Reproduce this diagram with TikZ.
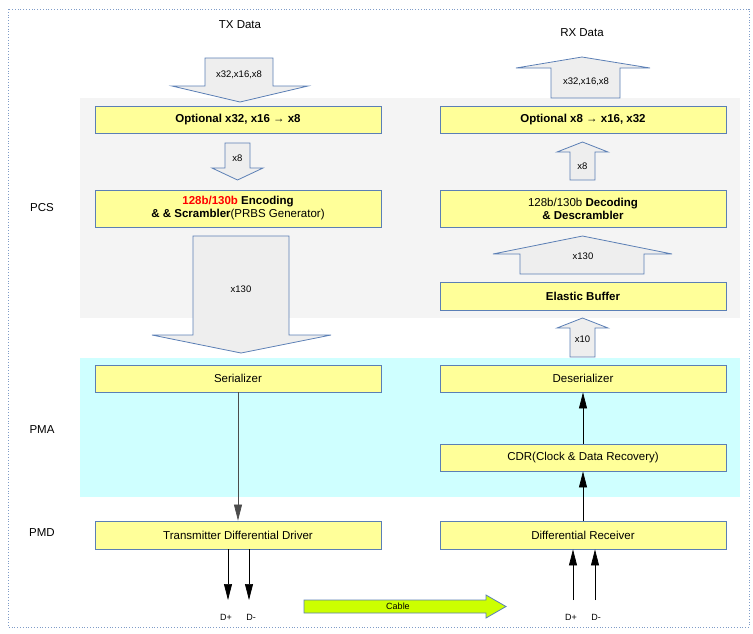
\documentclass[tikz,border=0pt]{standalone}
\usepackage{fontspec}
\setmainfont{Liberation Sans}
\usetikzlibrary{arrows.meta}
\definecolor{boxfill}{HTML}{FFFF99}
\definecolor{boxline}{HTML}{5B7FB5}
\definecolor{pcsband}{HTML}{F4F4F4}
\definecolor{pmaband}{HTML}{CFFFFF}
\definecolor{arrfill}{HTML}{EEEEEE}
\definecolor{cablefill}{HTML}{CCFF00}
\definecolor{borderc}{HTML}{7F9CC8}
\tikzset{
  blk/.style={draw=boxline, fill=boxfill, line width=0.9pt, minimum width=286pt, inner sep=0pt, font=\fontsize{11.5}{13}\selectfont, align=center},
  barrow/.style={draw=boxline, fill=arrfill, line width=0.8pt, line join=miter},
  alabel/.style={font=\fontsize{9.5}{11}\selectfont, inner sep=1pt},
  layer/.style={font=\fontsize{11.5}{13}\selectfont},
  conn/.style={line width=0.7pt, -{Triangle[length=16pt,width=8pt]}},
  dlabel/.style={font=\fontsize{9}{10}\selectfont, inner sep=0pt}
}
\begin{document}
\begin{tikzpicture}[x=1pt,y=-1pt]
\useasboundingbox (0,0) rectangle (753,633);
% outer border
\draw[borderc, dotted, line width=0.8pt] (8,9) rectangle (749,627);
% bands
\fill[pcsband] (80,98) rectangle (740,318);
\fill[pmaband] (80,358) rectangle (740,497);
% layer labels
\node[layer] (pcs) at (42,208) {PCS};
\node[layer] (pma) at (42,430) {PMA};
\node[layer] (pmd) at (42,533) {PMD};
% titles
\node[layer] (txdata) at (240,25) {TX Data};
\node[layer] (rxdata) at (582,33) {RX Data};
% boxes
\node[blk, minimum height=27pt] (topt) at (238,119.5) {\textbf{Optional x32, x16 → x8}};
\node[blk, minimum height=37pt] (tenc) at (238,208.5) {\textcolor{red}{\textbf{128b/130b}} \textbf{Encoding}\\\textbf{\& \& Scrambler}(PRBS Generator)};
\node[blk, minimum height=27pt] (ser) at (238,378.5) {Serializer};
\node[blk, minimum height=28pt] (tdrv) at (238,535) {Transmitter Differential Driver};
\node[blk, minimum height=27pt] (ropt) at (583,119.5) {\textbf{Optional x8 → x16, x32}};
\node[blk, minimum height=37pt] (rdec) at (583,208.5) {128b/130b \textbf{Decoding}\\\textbf{\& Descrambler}};
\node[blk, minimum height=28pt] (ebuf) at (583,296) {\textbf{Elastic Buffer}};
\node[blk, minimum height=27pt] (deser) at (583,378.5) {Deserializer};
\node[blk, minimum height=27pt] (cdr) at (583,457.5) {CDR(Clock \& Data Recovery)};
\node[blk, minimum height=28pt] (rrcv) at (583,535) {Differential Receiver};
% block arrows
\draw[barrow] (205,58) -- (273,58) -- (273,86) -- (308,86) -- (240,102) -- (172,86) -- (205,86) -- cycle;
\node[alabel] (a1) at (239,75) {x32,x16,x8};
\draw[barrow] (551,98) -- (551,68) -- (516,68) -- (582,57) -- (650,68) -- (620,68) -- (620,98) -- cycle;
\node[alabel] (a2) at (586,82) {x32,x16,x8};
\draw[barrow] (225,143) -- (250,143) -- (250,168) -- (263,168) -- (237.5,180) -- (212,168) -- (225,168) -- cycle;
\node[alabel] (a3) at (237.5,158) {x8};
\draw[barrow] (570,180) -- (570,152) -- (557,152) -- (582.5,142) -- (608,152) -- (595,152) -- (595,180) -- cycle;
\node[alabel] (a4) at (582.5,166) {x8};
\draw[barrow] (193,236) -- (289,236) -- (289,335) -- (331,335) -- (241,353) -- (152,335) -- (193,335) -- cycle;
\node[alabel] (a5) at (241,289) {x130};
\draw[barrow] (520,274) -- (520,254) -- (493,254) -- (582.5,236) -- (672,254) -- (644,254) -- (644,274) -- cycle;
\node[alabel] (a6) at (583,256) {x130};
\draw[barrow] (570,357) -- (570,328) -- (557,328) -- (582.5,318) -- (608,328) -- (595,328) -- (595,357) -- cycle;
\node[alabel] (a7) at (582.5,339) {x10};
% connectors
\draw[conn, draw=black!70] (ser.south) -- (tdrv.north);
\draw[conn] (rrcv.north) -- (cdr.south);
\draw[conn] (cdr.north) -- (deser.south);
% D+/D-
\coordinate (tp) at (228,600);
\coordinate (tm) at (249,600);
\coordinate (rp) at (573,600);
\coordinate (rm) at (595,600);
\draw[conn] (tdrv.south -| tp) -- (tp);
\draw[conn] (tdrv.south -| tm) -- (tm);
\draw[conn] (rp) -- (rrcv.south -| rp);
\draw[conn] (rm) -- (rrcv.south -| rm);
\node[dlabel] (ltp) at (226,617) {D+};
\node[dlabel] (ltm) at (251,617) {D-};
\node[dlabel] (lrp) at (571,617) {D+};
\node[dlabel] (lrm) at (596,617) {D-};
% cable
\draw[draw=boxline, fill=cablefill, line width=0.8pt] (304,600) -- (486,600) -- (486,595) -- (506,606.5) -- (486,618) -- (486,613) -- (304,613) -- cycle;
\node[font=\fontsize{9}{10}\selectfont, inner sep=0pt] (cable) at (398,606.5) {Cable};
\end{tikzpicture}
\end{document}
